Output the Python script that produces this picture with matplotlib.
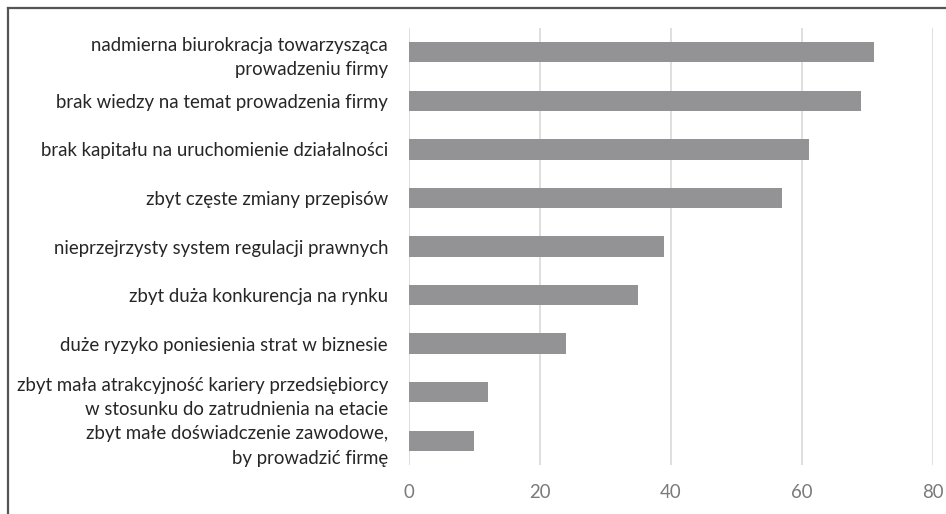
import matplotlib.pyplot as plt
from matplotlib.lines import Line2D

# categories and values
labels = [
    "nadmierna biurokracja towarzysząca\nprowadzeniu firmy",
    "brak wiedzy na temat prowadzenia firmy",
    "brak kapitału na uruchomienie działalności",
    "zbyt częste zmiany przepisów",
    "nieprzejrzysty system regulacji prawnych",
    "zbyt duża konkurencja na rynku",
    "duże ryzyko poniesienia strat w biznesie",
    "zbyt mała atrakcyjność kariery przedsiębiorcy\nw stosunku do zatrudnienia na etacie",
    "zbyt małe doświadczenie zawodowe,\nby prowadzić firmę",
]
values = [71, 69, 61, 57, 39, 35, 24, 12, 10]
xticks = [0, 20, 40, 60, 80]

plt.rcParams['font.family'] = ['Lato', 'DejaVu Sans']

fig = plt.figure(figsize=(9.46, 5.14), dpi=100)
ax = fig.add_axes([0.4323, 0.0953, 0.5540, 0.8502])

pos = list(range(len(labels)))
ax.barh(pos, values, height=0.42, color='#939396', zorder=3)
ax.set_ylim(len(labels) - 0.5, -0.5)
ax.set_xlim(0, 80)
ax.set_xticks(xticks)
ax.set_yticks(pos)
ax.set_yticklabels(labels, fontsize=13.4, color='#262626', linespacing=1.55)
ax.tick_params(axis='x', colors='#7a7a7a', labelsize=13.4, length=0, pad=14)
ax.tick_params(axis='y', length=0, pad=15)
ax.grid(axis='x', color='#d9d9d9', linewidth=1.2, zorder=0)
for s in ax.spines.values():
    s.set_visible(False)

# outer frame (only top and left edges are visible in the crop)
fig.add_artist(Line2D([8/946, 1.0], [1 - 8/514] * 2, color='#555555', lw=1.6,
                      transform=fig.transFigure))
fig.add_artist(Line2D([8/946] * 2, [0, 1 - 8/514], color='#555555', lw=1.6,
                      transform=fig.transFigure))

fig.savefig('out.png', dpi=100)
